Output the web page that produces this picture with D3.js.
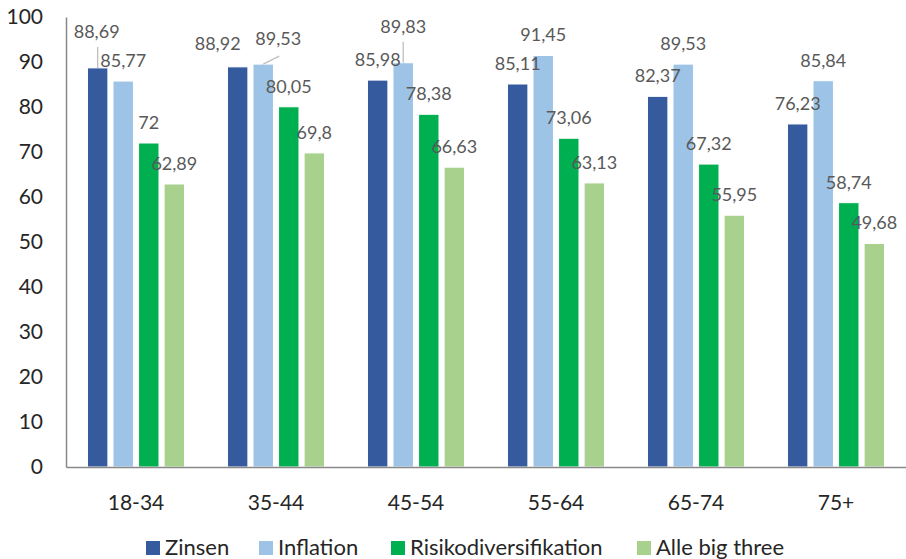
<!DOCTYPE html>
<html><head><meta charset="utf-8">
<script src="https://cdn.jsdelivr.net/npm/d3@7/dist/d3.min.js"></script>
<style>body{margin:0;background:#fff}svg{display:block;font-family:Lato,"Open Sans",sans-serif}</style>
</head><body><svg id="c" width="906" height="559"></svg>
<script>
const categories = ["18-34","35-44","45-54","55-64","65-74","75+"];
const seriesNames = ["Zinsen","Inflation","Risikodiversifikation","Alle big three"];
const zinsen = [88.69, 88.92, 85.98, 85.11, 82.37, 76.23];
const inflation = [85.77, 89.53, 89.83, 91.45, 89.53, 85.84];
const risiko = [72, 80.05, 78.38, 73.06, 67.32, 58.74];
const alle = [62.89, 69.8, 66.63, 63.13, 55.95, 49.68];
const yTicks = [0,10,20,30,40,50,60,70,80,90,100];

const colors = ["#355A9E","#9DC3E6","#00B050","#A9D18E"];
const series = [zinsen, inflation, risiko, alle];
// label nudges (style/layout only): key "series-category" -> [dx, dy, leader]
const nudges = {"0-0":[-1,-16,"v"],"0-1":[-20,-3,null],"1-1":[15,-5,"d"],"1-2":[0,-16,"v"]};

const svg = d3.select("#c");
const y = d3.scaleLinear().domain([0,100]).range([467,17]);
const x0 = d3.scaleBand().domain(categories).range([66,906]).paddingInner(0.27).paddingOuter(0.135);
const x1 = d3.scaleBand().domain(seriesNames).range([0,x0.bandwidth()]).paddingInner(0.2).paddingOuter(0.1);

// bars
series.forEach((vals,si)=>{
  svg.append("g").selectAll("rect").data(vals).join("rect")
    .attr("x",(d,i)=>x0(categories[i])+x1(seriesNames[si]))
    .attr("y",d=>y(d))
    .attr("width",x1.bandwidth())
    .attr("height",d=>y(0)-y(d))
    .attr("fill",colors[si])
    .attr("stroke","#fff").attr("stroke-width",1);
});

// labels
const fmt = v => String(v).replace(".",",");
series.forEach((vals,si)=>{
  vals.forEach((v,ci)=>{
    const cx = x0(categories[ci])+x1(seriesNames[si])+x1.bandwidth()/2;
    const top = y(v);
    const n = nudges[si+"-"+ci] || [0,0,null];
    const tx = cx+n[0], ty = top-14+n[1];
    if(n[2]==="v"){
      svg.append("line").attr("x1",cx).attr("x2",cx).attr("y1",top).attr("y2",top-21)
        .attr("stroke","#BFBFBF").attr("stroke-width",1.3);
    } else if(n[2]==="d"){
      svg.append("line").attr("x1",cx).attr("x2",cx+16).attr("y1",top).attr("y2",top-8)
        .attr("stroke","#BFBFBF").attr("stroke-width",1.3);
    }
    svg.append("text").attr("x",tx).attr("y",ty).attr("text-anchor","middle")
      .attr("font-size",18).attr("fill","#595959").text(fmt(v));
  });
});

// axes
const yAxis = d3.axisLeft(y).tickValues(yTicks).tickSize(0).tickPadding(23);
const gy = svg.append("g").attr("transform","translate(66,0)").call(yAxis);
gy.select(".domain").attr("stroke","#898989").attr("stroke-width",1.5);
gy.selectAll("text").attr("font-size",21).attr("fill","#262626").attr("font-family","Lato,sans-serif");

const xAxis = d3.axisBottom(x0).tickSize(0).tickPadding(28);
const gx = svg.append("g").attr("transform","translate(0,467)").call(xAxis);
gx.select(".domain").attr("stroke","#898989").attr("stroke-width",1.5);
gx.selectAll("text").attr("font-size",21).attr("fill","#262626").attr("font-family","Lato,sans-serif");

// legend
const legX = [146,259,391,637];
const lg = svg.append("g");
seriesNames.forEach((s,i)=>{
  lg.append("rect").attr("x",legX[i]).attr("y",541).attr("width",14).attr("height",14).attr("fill",colors[i]);
  lg.append("text").attr("x",legX[i]+19).attr("y",555).attr("font-size",22).attr("fill","#262626").text(s);
});
</script></body></html>
